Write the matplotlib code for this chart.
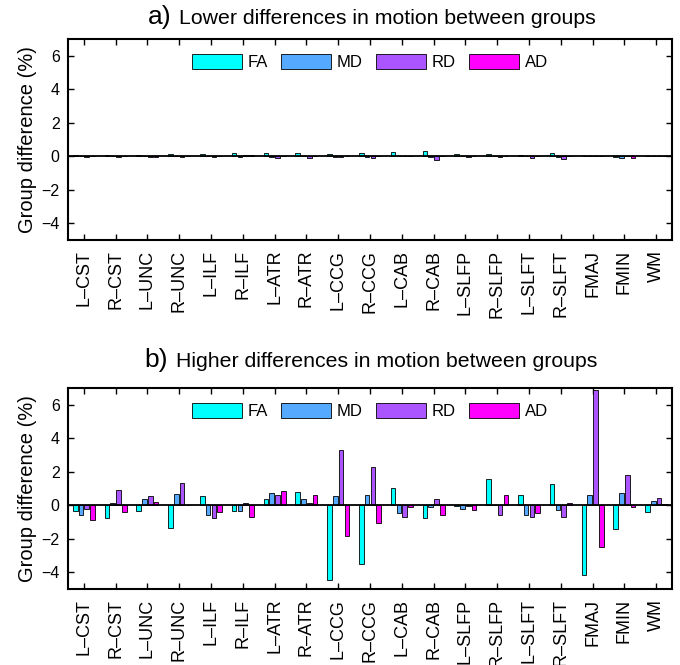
import matplotlib
matplotlib.use("Agg")
import matplotlib.pyplot as plt
import numpy as np

plt.rcParams['font.family'] = ['Liberation Sans', 'DejaVu Sans']

tracts = ["L–CST", "R–CST", "L–UNC", "R–UNC", "L–ILF", "R–ILF", "L–ATR", "R–ATR",
          "L–CCG", "R–CCG", "L–CAB", "R–CAB", "L–SLFP", "R–SLFP", "L–SLFT", "R–SLFT",
          "FMAJ", "FMIN", "WM"]
measures = ["FA", "MD", "RD", "AD"]
colors = ["#00FFFF", "#55AAFF", "#AA55FF", "#FF00FF"]

# a) lower motion group differences (%)
low_fa = [0.08, 0.08, 0.08, 0.12, 0.12, 0.18, 0.20, 0.18, 0.12, 0.18,
          0.24, 0.34, 0.12, 0.16, 0.08, 0.18, 0.04, -0.03, 0.04]
low_md = [0.02, 0.01, 0.01, 0.02, 0.01, -0.02, -0.02, 0.00, -0.02, -0.02,
          -0.01, -0.06, 0.00, 0.00, 0.02, -0.04, 0.02, -0.10, 0.02]
low_rd = [-0.05, -0.02, -0.04, -0.03, -0.03, 0.08, -0.08, -0.08, -0.05, -0.10,
          0.04, -0.22, -0.05, -0.03, -0.08, -0.14, 0.04, 0.02, 0.00]
low_ad = [0.00, 0.02, -0.02, 0.02, 0.04, 0.08, 0.02, 0.02, 0.02, 0.03,
          0.04, 0.00, 0.00, 0.00, 0.00, 0.00, 0.04, -0.10, 0.01]

# b) higher motion group differences (%)
high_fa = [-0.36, -0.78, -0.34, -1.34, 0.56, -0.36, 0.38, 0.78, -4.48, -3.48,
           1.04, -0.78, -0.04, 1.58, 0.60, 1.24, -4.18, -1.44, -0.42]
high_md = [-0.60, 0.16, 0.36, 0.66, -0.58, -0.36, 0.72, 0.38, 0.54, 0.60,
           -0.44, -0.10, -0.20, 0.00, -0.58, -0.28, 0.62, 0.72, 0.24]
high_rd = [-0.20, 0.90, 0.54, 1.32, -0.78, 0.14, 0.60, 0.16, 3.30, 2.30,
           -0.72, 0.38, -0.04, -0.60, -0.68, -0.68, 6.86, 1.80, 0.44]
high_ad = [-0.88, -0.42, 0.18, 0.02, -0.38, -0.72, 0.84, 0.62, -1.86, -1.04,
           -0.10, -0.60, -0.30, 0.60, -0.48, 0.14, -2.50, -0.10, 0.06]

panels = [
    ("a)", "Lower differences in motion between groups",
     [low_fa, low_md, low_rd, low_ad]),
    ("b)", "Higher differences in motion between groups",
     [high_fa, high_md, high_rd, high_ad]),
]

W, H = 680, 665
fig = plt.figure(figsize=(W / 100, H / 100), dpi=100)

axes_px = [(39, 240), (388, 589)]          # top / bottom edges in pixels
title_px = [(148, 179, 24), (144, 176, 367)]

x = np.arange(1, len(tracts) + 1)
n = len(measures)
group_w = min(0.8, n / (n + 1.5))
step = group_w / n
bar_w = step * 0.8

for (top, bot), (xl, xt, yb), (tag, title, series) in zip(axes_px, title_px, panels):
    ax = fig.add_axes([68 / W, (H - bot) / H, 604 / W, (bot - top) / H])
    for i, (vals, col, lab) in enumerate(zip(series, colors, measures)):
        off = (i - (n - 1) / 2) * step
        ax.bar(x + off, vals, bar_w, color=col, edgecolor="black",
               linewidth=0.6, label=lab, zorder=2)
    ax.axhline(0, color="black", linewidth=1.3, zorder=3)
    ax.set_xlim(0.5, len(tracts) + 0.5)
    ax.set_ylim(-5, 7)
    ax.set_yticks([-4, -2, 0, 2, 4, 6])
    ax.set_xticks(x)
    ax.set_xticklabels(tracts, rotation=90, fontsize=13, va="top")
    ax.tick_params(axis="both", direction="in", length=4.5, width=1.0,
                   top=True, right=True, labelsize=11.5)
    ax.tick_params(axis="x", pad=7, labelsize=13)
    ax.tick_params(axis="y", pad=6)
    for s in ax.spines.values():
        s.set_linewidth(1.5)
    ax.set_ylabel("Group difference (%)", fontsize=14.5, labelpad=3)
    ax.legend(loc="center", bbox_to_anchor=(0.5, 0.886), ncol=4, frameon=False,
              fontsize=12, handlelength=3.0, handleheight=1.0,
              handletextpad=0.35, columnspacing=0.8, borderpad=0.2)
    fig.text(xl / W, 1 - yb / H, tag, fontsize=19, va="baseline", ha="left")
    fig.text(xt / W, 1 - yb / H, title, fontsize=15.3, va="baseline", ha="left")

fig.savefig("out.png", dpi=100)
